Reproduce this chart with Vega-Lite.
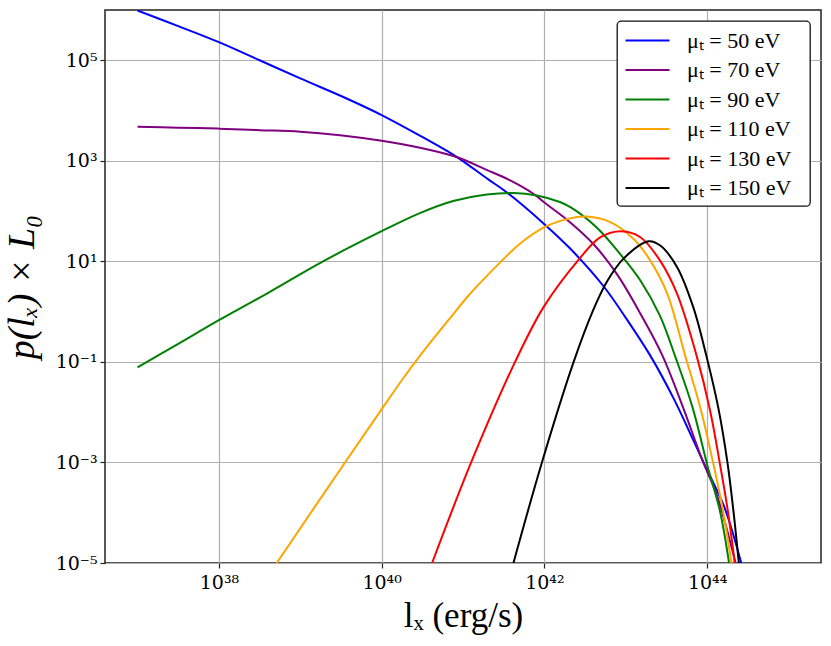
{
  "$schema": "https://vega.github.io/schema/vega-lite/v6.json",
  "autosize": {"type": "none"},
  "width": 716,
  "height": 553,
  "padding": {"left": 105, "top": 10, "right": 10, "bottom": 83},
  "background": "white",
  "config": {
    "font": "Liberation Serif",
    "view": {"stroke": "#222", "strokeWidth": 1.5},
    "axis": {
      "labelFont": "DejaVu Serif",
      "titleFont": "Liberation Serif",
      "labelColor": "#000",
      "titleColor": "#000",
      "labelFontSize": 19,
      "titleFontSize": 35,
      "titleFontWeight": "normal",
      "gridColor": "#b0b0b0",
      "gridWidth": 1.2,
      "domainColor": "#222",
      "domainWidth": 1.5,
      "tickColor": "#222",
      "tickWidth": 1.2,
      "tickSize": 5
    },
    "legend": {
      "labelFont": "Liberation Serif",
      "labelFontSize": 22,
      "labelColor": "#000",
      "strokeWidth": 1.3
    }
  },
  "data": {
    "values": [
      {"series": "μₜ = 50 eV", "l": 1e37, "p": 977200},
      {"series": "μₜ = 50 eV", "l": 3.162e37, "p": 478600},
      {"series": "μₜ = 50 eV", "l": 1e38, "p": 229100},
      {"series": "μₜ = 50 eV", "l": 3.162e38, "p": 100000},
      {"series": "μₜ = 50 eV", "l": 1e39, "p": 43650},
      {"series": "μₜ = 50 eV", "l": 4.074e39, "p": 16220},
      {"series": "μₜ = 50 eV", "l": 1e40, "p": 8128},
      {"series": "μₜ = 50 eV", "l": 2.951e40, "p": 3162},
      {"series": "μₜ = 50 eV", "l": 8.511e40, "p": 1175},
      {"series": "μₜ = 50 eV", "l": 2.042e41, "p": 426.6},
      {"series": "μₜ = 50 eV", "l": 3.467e41, "p": 234.4},
      {"series": "μₜ = 50 eV", "l": 1e42, "p": 54.95},
      {"series": "μₜ = 50 eV", "l": 2.089e42, "p": 17.78},
      {"series": "μₜ = 50 eV", "l": 5.37e42, "p": 3.162},
      {"series": "μₜ = 50 eV", "l": 1.047e43, "p": 0.6761},
      {"series": "μₜ = 50 eV", "l": 1.995e43, "p": 0.1349},
      {"series": "μₜ = 50 eV", "l": 3.89e43, "p": 0.01862},
      {"series": "μₜ = 50 eV", "l": 6.918e43, "p": 0.00257},
      {"series": "μₜ = 50 eV", "l": 1e44, "p": 0.0007079},
      {"series": "μₜ = 50 eV", "l": 1.622e44, "p": 0.0001318},
      {"series": "μₜ = 50 eV", "l": 2.63e44, "p": 0.00001},

      {"series": "μₜ = 70 eV", "l": 1e37, "p": 4786},
      {"series": "μₜ = 70 eV", "l": 3.162e37, "p": 4571},
      {"series": "μₜ = 70 eV", "l": 1e38, "p": 4365},
      {"series": "μₜ = 70 eV", "l": 3.162e38, "p": 4074},
      {"series": "μₜ = 70 eV", "l": 1e39, "p": 3802},
      {"series": "μₜ = 70 eV", "l": 3.09e39, "p": 3236},
      {"series": "μₜ = 70 eV", "l": 1e40, "p": 2512},
      {"series": "μₜ = 70 eV", "l": 2.951e40, "p": 1820},
      {"series": "μₜ = 70 eV", "l": 8.511e40, "p": 1175},
      {"series": "μₜ = 70 eV", "l": 1.95e41, "p": 660.7},
      {"series": "μₜ = 70 eV", "l": 3.802e41, "p": 407.4},
      {"series": "μₜ = 70 eV", "l": 7.244e41, "p": 223.9},
      {"series": "μₜ = 70 eV", "l": 1e42, "p": 147.9},
      {"series": "μₜ = 70 eV", "l": 1.995e42, "p": 63.1},
      {"series": "μₜ = 70 eV", "l": 3.981e42, "p": 22.39},
      {"series": "μₜ = 70 eV", "l": 7.762e42, "p": 5.623},
      {"series": "μₜ = 70 eV", "l": 1.514e43, "p": 0.912},
      {"series": "μₜ = 70 eV", "l": 2.818e43, "p": 0.1349},
      {"series": "μₜ = 70 eV", "l": 5.129e43, "p": 0.01175},
      {"series": "μₜ = 70 eV", "l": 8.71e43, "p": 0.001122},
      {"series": "μₜ = 70 eV", "l": 1.318e44, "p": 0.0002239},
      {"series": "μₜ = 70 eV", "l": 2.239e44, "p": 0.00001},

      {"series": "μₜ = 90 eV", "l": 1e37, "p": 0.07762},
      {"series": "μₜ = 90 eV", "l": 3.162e37, "p": 0.2291},
      {"series": "μₜ = 90 eV", "l": 1e38, "p": 0.6761},
      {"series": "μₜ = 90 eV", "l": 3.89e38, "p": 2.291},
      {"series": "μₜ = 90 eV", "l": 1.905e39, "p": 10},
      {"series": "μₜ = 90 eV", "l": 1e40, "p": 39.81},
      {"series": "μₜ = 90 eV", "l": 2.951e40, "p": 91.2},
      {"series": "μₜ = 90 eV", "l": 7.586e40, "p": 158.5},
      {"series": "μₜ = 90 eV", "l": 1.95e41, "p": 213.8},
      {"series": "μₜ = 90 eV", "l": 4.169e41, "p": 229.1},
      {"series": "μₜ = 90 eV", "l": 8.128e41, "p": 204.2},
      {"series": "μₜ = 90 eV", "l": 1.549e42, "p": 151.4},
      {"series": "μₜ = 90 eV", "l": 2.089e42, "p": 120.2},
      {"series": "μₜ = 90 eV", "l": 4.365e42, "p": 47.86},
      {"series": "μₜ = 90 eV", "l": 8.511e42, "p": 14.13},
      {"series": "μₜ = 90 eV", "l": 1.514e43, "p": 4.169},
      {"series": "μₜ = 90 eV", "l": 2.63e43, "p": 0.8318},
      {"series": "μₜ = 90 eV", "l": 4.074e43, "p": 0.1259},
      {"series": "μₜ = 90 eV", "l": 6.607e43, "p": 0.01259},
      {"series": "μₜ = 90 eV", "l": 1.023e44, "p": 0.0007943},
      {"series": "μₜ = 90 eV", "l": 1.445e44, "p": 0.0001047},
      {"series": "μₜ = 90 eV", "l": 1.862e44, "p": 0.00001},

      {"series": "μₜ = 110 eV", "l": 5.129e38, "p": 0.00001},
      {"series": "μₜ = 110 eV", "l": 3.548e39, "p": 0.001},
      {"series": "μₜ = 110 eV", "l": 9.55e39, "p": 0.01023},
      {"series": "μₜ = 110 eV", "l": 1.778e40, "p": 0.04365},
      {"series": "μₜ = 110 eV", "l": 2.951e40, "p": 0.1318},
      {"series": "μₜ = 110 eV", "l": 6.607e40, "p": 0.6761},
      {"series": "μₜ = 110 eV", "l": 1.23e41, "p": 2.291},
      {"series": "μₜ = 110 eV", "l": 2.951e41, "p": 10},
      {"series": "μₜ = 110 eV", "l": 5.012e41, "p": 22.39},
      {"series": "μₜ = 110 eV", "l": 1e42, "p": 47.86},
      {"series": "μₜ = 110 eV", "l": 1.995e42, "p": 70.79},
      {"series": "μₜ = 110 eV", "l": 3.311e42, "p": 77.62},
      {"series": "μₜ = 110 eV", "l": 6.457e42, "p": 60.26},
      {"series": "μₜ = 110 eV", "l": 1.259e43, "p": 27.54},
      {"series": "μₜ = 110 eV", "l": 1.995e43, "p": 10.47},
      {"series": "μₜ = 110 eV", "l": 3.236e43, "p": 2.291},
      {"series": "μₜ = 110 eV", "l": 5.37e43, "p": 0.1349},
      {"series": "μₜ = 110 eV", "l": 8.318e43, "p": 0.01175},
      {"series": "μₜ = 110 eV", "l": 1.202e44, "p": 0.0008913},
      {"series": "μₜ = 110 eV", "l": 1.549e44, "p": 0.000123},
      {"series": "μₜ = 110 eV", "l": 1.995e44, "p": 0.00001},

      {"series": "μₜ = 130 eV", "l": 4.169e40, "p": 0.00001},
      {"series": "μₜ = 130 eV", "l": 1.259e41, "p": 0.001},
      {"series": "μₜ = 130 eV", "l": 4.365e41, "p": 0.1},
      {"series": "μₜ = 130 eV", "l": 9.772e41, "p": 1.23},
      {"series": "μₜ = 130 eV", "l": 2.63e42, "p": 10.72},
      {"series": "μₜ = 130 eV", "l": 4.898e42, "p": 30.2},
      {"series": "μₜ = 130 eV", "l": 8.913e42, "p": 39.81},
      {"series": "μₜ = 130 eV", "l": 1.514e43, "p": 30.2},
      {"series": "μₜ = 130 eV", "l": 2.63e43, "p": 10.47},
      {"series": "μₜ = 130 eV", "l": 4.266e43, "p": 2.291},
      {"series": "μₜ = 130 eV", "l": 7.413e43, "p": 0.1349},
      {"series": "μₜ = 130 eV", "l": 1.096e44, "p": 0.01023},
      {"series": "μₜ = 130 eV", "l": 1.445e44, "p": 0.0008913},
      {"series": "μₜ = 130 eV", "l": 1.778e44, "p": 0.000123},
      {"series": "μₜ = 130 eV", "l": 2.188e44, "p": 0.00001},

      {"series": "μₜ = 150 eV", "l": 4.169e41, "p": 0.00001},
      {"series": "μₜ = 150 eV", "l": 9.333e41, "p": 0.001},
      {"series": "μₜ = 150 eV", "l": 2.291e42, "p": 0.1},
      {"series": "μₜ = 150 eV", "l": 3.981e42, "p": 1.072},
      {"series": "μₜ = 150 eV", "l": 5.888e42, "p": 3.981},
      {"series": "μₜ = 150 eV", "l": 9.333e42, "p": 11.22},
      {"series": "μₜ = 150 eV", "l": 1.905e43, "p": 25.12},
      {"series": "μₜ = 150 eV", "l": 2.63e43, "p": 20.89},
      {"series": "μₜ = 150 eV", "l": 4.266e43, "p": 7.762},
      {"series": "μₜ = 150 eV", "l": 6.761e43, "p": 1.23},
      {"series": "μₜ = 150 eV", "l": 9.772e43, "p": 0.1349},
      {"series": "μₜ = 150 eV", "l": 1.38e44, "p": 0.01175},
      {"series": "μₜ = 150 eV", "l": 1.778e44, "p": 0.001},
      {"series": "μₜ = 150 eV", "l": 2.089e44, "p": 0.000123},
      {"series": "μₜ = 150 eV", "l": 2.455e44, "p": 0.00001}
    ]
  },
  "mark": {"type": "line", "strokeWidth": 2, "clip": true, "interpolate": "catmull-rom"},
  "encoding": {
    "x": {
      "field": "l",
      "type": "quantitative",
      "scale": {"type": "log", "domain": [3.981e36, 2.512e45], "nice": false},
      "axis": {
        "title": "lₓ  (erg/s)",
        "values": [1e38, 1e40, 1e42, 1e44],
        "labelExpr": "'10' + (round(log(datum.value)/LN10) == 38 ? '³⁸' : round(log(datum.value)/LN10) == 40 ? '⁴⁰' : round(log(datum.value)/LN10) == 42 ? '⁴²' : '⁴⁴')",
        "labelPadding": 5,
        "titleBaseline": "alphabetic",
        "titleY": 63,
        "domain": false
      }
    },
    "y": {
      "field": "p",
      "type": "quantitative",
      "scale": {"type": "log", "domain": [0.00001, 1000000], "nice": false},
      "axis": {
        "title": "p(lₓ) × L₀",
        "titleFontStyle": "italic",
        "titleFontSize": 38,
        "values": [0.00001, 0.001, 0.1, 10, 1000, 100000],
        "labelExpr": "'10' + (round(log(datum.value)/LN10) == -5 ? '⁻⁵' : round(log(datum.value)/LN10) == -3 ? '⁻³' : round(log(datum.value)/LN10) == -1 ? '⁻¹' : round(log(datum.value)/LN10) == 1 ? '¹' : round(log(datum.value)/LN10) == 3 ? '³' : '⁵')",
        "labelPadding": 3,
        "titleBaseline": "alphabetic",
        "titleX": -72,
        "domain": false
      }
    },
    "color": {
      "field": "series",
      "type": "nominal",
      "scale": {
        "domain": ["μₜ = 50 eV", "μₜ = 70 eV", "μₜ = 90 eV", "μₜ = 110 eV", "μₜ = 130 eV", "μₜ = 150 eV"],
        "range": ["#0000ff", "#800080", "#008000", "#ffa500", "#ff0000", "#000000"]
      },
      "legend": {
        "title": null,
        "orient": "top-right",
        "offset": 11,
        "symbolType": "M-1,0H3",
        "symbolSize": 484,
        "symbolStrokeWidth": 2.2,
        "labelOffset": 38,
        "labelExpr": "replace(datum.label, '=', ' = ')",
        "rowPadding": 5.5,
        "padding": 7,
        "strokeColor": "#111",
        "cornerRadius": 4,
        "fillColor": "white"
      }
    }
  }
}
